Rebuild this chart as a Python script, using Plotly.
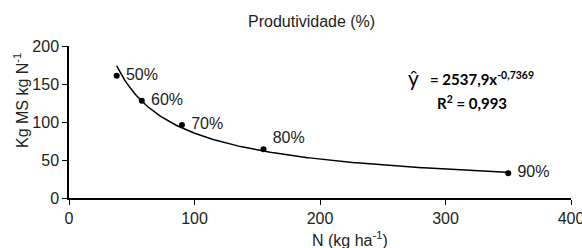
import numpy as np
import plotly.graph_objects as go

# Data
n_dose = [38, 58, 90, 155, 350]
efficiency = [161, 128, 96, 64, 32.5]
labels = ["50%", "60%", "70%", "80%<br> ", "90%"]
coef_a = 2537.9
coef_b = -0.7369
x_ticks = [0, 100, 200, 300, 400]
y_ticks = [0, 50, 100, 150, 200]

xc = np.linspace(38, 350, 200)
yc = coef_a * xc ** coef_b

font_main = dict(family="Liberation Sans, Arial", size=16, color="#222")

fig = go.Figure()
fig.add_trace(go.Scatter(x=xc, y=yc, mode="lines", line=dict(color="black", width=1.5),
                         hoverinfo="skip", showlegend=False))
fig.add_trace(go.Scatter(x=n_dose, y=efficiency, mode="markers+text",
                         marker=dict(color="black", size=6),
                         text=[" " + t for t in labels], textposition="middle right",
                         textfont=font_main, showlegend=False))

fig.update_layout(
    width=582, height=248,
    margin=dict(l=69, r=11, t=46, b=50),
    paper_bgcolor="white", plot_bgcolor="white",
    font=font_main,
    xaxis=dict(range=[0, 400], tickvals=x_ticks, showgrid=False, zeroline=False,
               showline=True, linecolor="black", linewidth=2, ticks="outside",
               ticklen=5, tickcolor="black", tickwidth=1, tickfont=font_main,
               automargin=False, ticklabeloverflow="allow"),
    yaxis=dict(range=[0, 200], tickvals=y_ticks, showgrid=False, zeroline=False,
               showline=True, linecolor="black", linewidth=1.5, ticks="outside",
               ticklen=5, tickcolor="black", tickwidth=1, tickfont=font_main,
               automargin=False),
    annotations=[
        dict(text="Produtividade (%)", xref="paper", yref="paper",
             x=(311 - 69) / 502, y=(198 - 22) / 152, showarrow=False,
             xanchor="center", yanchor="middle", font=font_main),
        dict(text="N (kg ha<sup>-1</sup>)", xref="paper", yref="paper",
             x=(350 - 69) / 502, y=(198 - 239) / 152, showarrow=False,
             xanchor="center", yanchor="middle", font=font_main),
        dict(text="Kg MS kg N<sup>-1</sup>", xref="paper", yref="paper",
             x=(21 - 69) / 502, y=(198 - 101) / 152, showarrow=False, textangle=-90,
             xanchor="center", yanchor="middle", font=font_main),
        dict(text="ŷ", xref="paper", yref="paper",
             x=(413 - 69) / 502, y=(198 - 77) / 152, showarrow=False,
             xanchor="center", yanchor="middle",
             font=dict(family="Lato, Open Sans", size=21, color="black")),
        dict(text="<b>= 2537,9x<sup>-0,7369</sup></b>", xref="paper", yref="paper",
             x=(428 - 69) / 502, y=(198 - 78) / 152, showarrow=False,
             xanchor="left", yanchor="middle",
             font=dict(family="Lato", size=15, color="black")),
        dict(text="<b>R<sup>2</sup> = 0,993</b>", xref="paper", yref="paper",
             x=(472 - 69) / 502, y=(198 - 102) / 152, showarrow=False,
             xanchor="center", yanchor="middle",
             font=dict(family="Lato", size=15, color="black")),
    ],
)
fig.write_html("out.html", config={"displayModeBar": False},
               post_script="document.body.style.margin='0';document.body.style.overflow='hidden';")
